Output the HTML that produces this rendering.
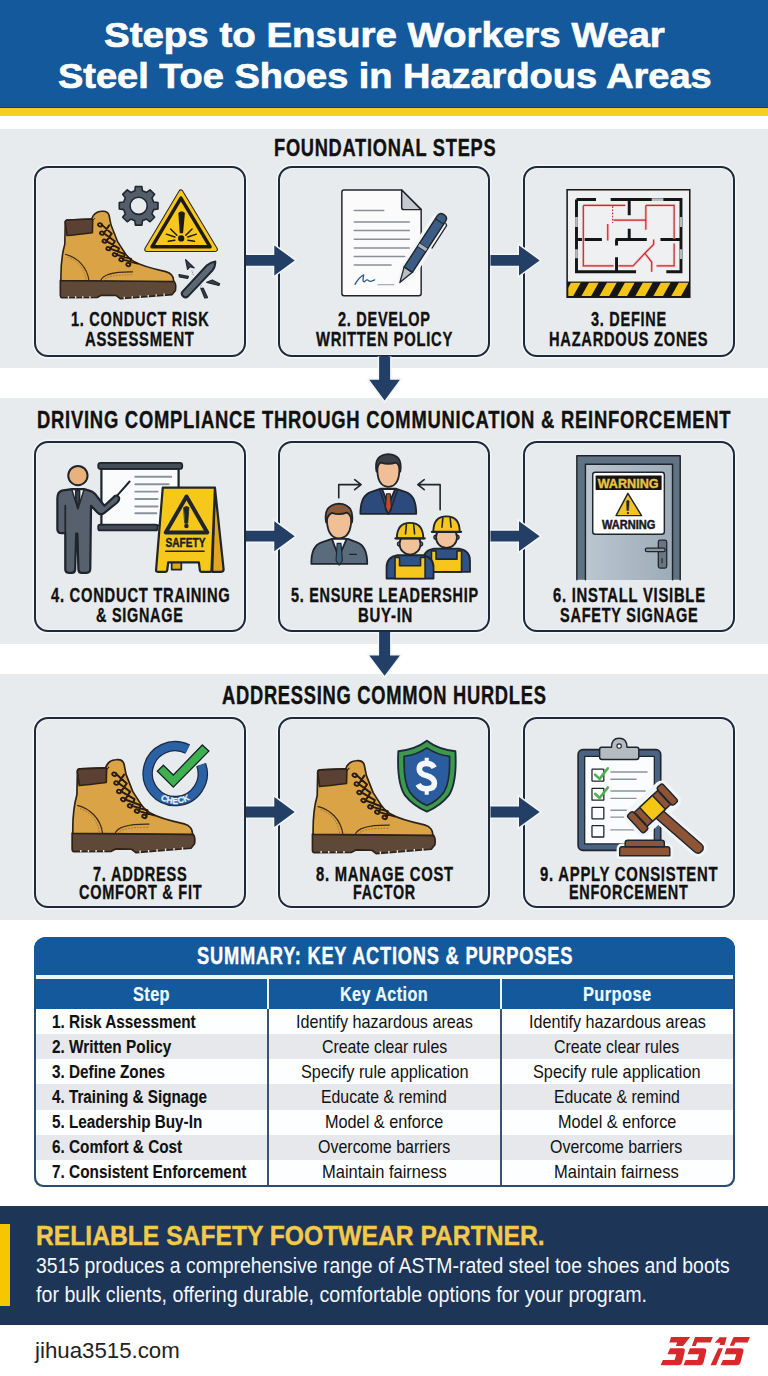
<!DOCTYPE html>
<html><head><meta charset="utf-8"><style>
html,body{margin:0;padding:0;}
body{width:768px;height:1376px;position:relative;overflow:hidden;background:#fff;font-family:"Liberation Sans",sans-serif;}
.t{position:absolute;white-space:nowrap;transform-origin:0 0;}
.a{position:absolute;}
</style></head><body>
<div class="a" style="left:0;top:0;width:768px;height:107px;background:#13599b"></div>
<div class="a" style="left:0;top:106.5px;width:768px;height:1.5px;background:#1c4250"></div>
<div class="a" style="left:0;top:108px;width:768px;height:7.5px;background:#f4cf1f"></div>
<div class="a" style="left:0;top:129px;width:768px;height:239px;background:#e8ebed"></div>
<div class="a" style="left:0;top:398px;width:768px;height:246px;background:#e8ebed"></div>
<div class="a" style="left:0;top:674px;width:768px;height:246px;background:#e8ebed"></div>
<!-- cards -->
<div class="a" style="left:34px;top:165.6px;width:208px;height:187px;border:2px solid #1e2a3c;border-radius:14px;box-shadow:0 0 0 1.5px #f4f7fa, inset 0 0 0 1px #eef1f5"></div>
<div class="a" style="left:278px;top:165.6px;width:208px;height:187px;border:2px solid #1e2a3c;border-radius:14px;box-shadow:0 0 0 1.5px #f4f7fa, inset 0 0 0 1px #eef1f5"></div>
<div class="a" style="left:522.5px;top:165.6px;width:208px;height:187px;border:2px solid #1e2a3c;border-radius:14px;box-shadow:0 0 0 1.5px #f4f7fa, inset 0 0 0 1px #eef1f5"></div>
<div class="a" style="left:34px;top:441px;width:208px;height:187px;border:2px solid #1e2a3c;border-radius:14px;box-shadow:0 0 0 1.5px #f4f7fa, inset 0 0 0 1px #eef1f5"></div>
<div class="a" style="left:278px;top:441px;width:208px;height:187px;border:2px solid #1e2a3c;border-radius:14px;box-shadow:0 0 0 1.5px #f4f7fa, inset 0 0 0 1px #eef1f5"></div>
<div class="a" style="left:522.5px;top:441px;width:208px;height:187px;border:2px solid #1e2a3c;border-radius:14px;box-shadow:0 0 0 1.5px #f4f7fa, inset 0 0 0 1px #eef1f5"></div>
<div class="a" style="left:34px;top:716.6px;width:208px;height:187px;border:2px solid #1e2a3c;border-radius:14px;box-shadow:0 0 0 1.5px #f4f7fa, inset 0 0 0 1px #eef1f5"></div>
<div class="a" style="left:278px;top:716.6px;width:208px;height:187px;border:2px solid #1e2a3c;border-radius:14px;box-shadow:0 0 0 1.5px #f4f7fa, inset 0 0 0 1px #eef1f5"></div>
<div class="a" style="left:522.5px;top:716.6px;width:208px;height:187px;border:2px solid #1e2a3c;border-radius:14px;box-shadow:0 0 0 1.5px #f4f7fa, inset 0 0 0 1px #eef1f5"></div>
<!-- table -->
<div class="a" style="left:34px;top:937px;width:701px;height:250px;border-radius:12px 12px 9px 9px;background:#2b4d72;overflow:hidden">
  <div class="a" style="left:0;top:0;width:701px;height:42px;background:#13599b"></div>
  <div class="a" style="left:2px;top:38px;width:697px;height:4px;background:#e9f7fc"></div>
  <div class="a" style="left:2px;top:42px;width:697px;height:30px;background:#13599b"></div>
  <div class="a" style="left:2px;top:72px;width:697px;height:176px;background:#fdfeff;border-radius:0 0 8px 8px;overflow:hidden">
  <div class="a" style="left:0;top:25.15px;width:697px;height:25.15px;background:#e6e8eb"></div>
  <div class="a" style="left:0;top:75.45px;width:697px;height:25.15px;background:#e6e8eb"></div>
  <div class="a" style="left:0;top:125.75px;width:697px;height:25.15px;background:#e6e8eb"></div>
  </div>
  <div class="a" style="left:233px;top:42px;width:2px;height:30px;background:#e9f7fc"></div>
  <div class="a" style="left:466px;top:42px;width:2px;height:30px;background:#e9f7fc"></div>
  <div class="a" style="left:233px;top:72px;width:1.6px;height:176px;background:#3b536c"></div>
  <div class="a" style="left:466px;top:72px;width:1.6px;height:176px;background:#3b536c"></div>
</div>
<!-- banner -->
<div class="a" style="left:0;top:1206px;width:768px;height:119px;background:#1d3557"></div>
<div class="a" style="left:0;top:1224px;width:10px;height:82px;background:#f6c600"></div>

<div class="a door-grad" style="left:585.4px;top:464.2px;width:87.1px;height:115.6px;background:linear-gradient(90deg,#bac6d0,#9eacb8)"></div>

<svg class="a" style="left:0;top:0" width="768" height="1376" viewBox="0 0 768 1376">
<path d="M246,254.99999999999997H274.3V245.39999999999998L294.7,260.4L274.3,275.4V265.79999999999995H246 M490.5,254.99999999999997H519V245.39999999999998L539.7,260.4L519,275.4V265.79999999999995H490.5 M246,530.8000000000001H274.3V521.2L294.7,536.2L274.3,551.2V541.6H246 M490.5,530.8000000000001H519V521.2L539.7,536.2L519,551.2V541.6H490.5 M246,806.6H274.3V797.0L294.7,812.0L274.3,827.0V817.4H246 M490.5,806.6H519V797.0L539.7,812.0L519,827.0V817.4H490.5 M379.1,356.5V379.8H369.3L384.6,400.5L399.90000000000003,379.8H390.1V356.5 M379.1,632V655.6H369.3L384.6,675.8L399.90000000000003,655.6H390.1V632" fill="none" stroke="#f3f6f9" stroke-width="3" stroke-linejoin="miter"/>
<path d="M246,254.99999999999997H274.3V245.39999999999998L294.7,260.4L274.3,275.4V265.79999999999995H246 M490.5,254.99999999999997H519V245.39999999999998L539.7,260.4L519,275.4V265.79999999999995H490.5 M246,530.8000000000001H274.3V521.2L294.7,536.2L274.3,551.2V541.6H246 M490.5,530.8000000000001H519V521.2L539.7,536.2L519,551.2V541.6H490.5 M246,806.6H274.3V797.0L294.7,812.0L274.3,827.0V817.4H246 M490.5,806.6H519V797.0L539.7,812.0L519,827.0V817.4H490.5 M379.1,356.5V379.8H369.3L384.6,400.5L399.90000000000003,379.8H390.1V356.5 M379.1,632V655.6H369.3L384.6,675.8L399.90000000000003,655.6H390.1V632" fill="#233f66"/>
</svg>
<svg class="a" style="left:0;top:0" width="768" height="1376" viewBox="0 0 768 1376">
<g transform="translate(53.3,205.9) scale(0.1595)" stroke="#2e2118" stroke-width="10" stroke-linejoin="round">
  <path d="M44,466 L758,474 Q772,490 766,530 L745,556 L420,582 L395,562 L300,560 L275,574 L55,576 Q44,574 44,560 Z" fill="#5e4939"/>
  <path d="M95,566 V580 M140,566 V580 M185,566 V580 M230,566 V580 M445,570 V586 M495,566 V582 M545,562 V578 M595,558 V574 M645,554 V570 M695,550 V566 " stroke="#e7eaee" stroke-width="8" stroke-linecap="butt"/>
  <path d="M75,104 Q74,90 90,88 L240,82 C248,58 262,38 300,34 C330,30 345,38 350,60 L362,120 L402,222 L452,300 C470,325 488,340 505,348 C560,380 640,398 705,412 C740,422 756,448 754,474 L48,468 C46,380 55,300 72,240 Z" fill="#daa446"/>
  <path d="M75,104 Q74,90 90,88 L238,82 Q248,82 247,92 L245,168 C180,176 130,182 86,186 Z" fill="#5b4133"/>
  <path d="M247,92 L262,76" fill="none" stroke-width="6"/>
  <path d="M74,303 C150,322 212,380 224,470 M296,470 C312,425 385,412 500,414" fill="none" stroke-width="7" stroke="#3a2a1e"/>
  <path d="M90,322 C150,342 196,390 205,468 M312,470 C330,440 390,432 495,432" fill="none" stroke-width="4" stroke="#8a5e2a" stroke-dasharray="10 8"/>
  <path d="M305,119 L366,174 M350,122 L317,171 M317,171 L386,222 M366,174 L333,221 M333,221 L412,266 M386,222 L357,268 M357,268 L448,302 M412,266 L397,306 M397,306 L488,332 M448,302 L438,337 M438,337 L528,362 M488,332 L482,368 " stroke-width="12" fill="none" stroke-linecap="round" stroke="#2a1c12"/>
  <g fill="none" stroke-width="11" stroke="#2a1c12"><ellipse cx="293" cy="119" rx="13" ry="10" transform="rotate(20,293,119)"/><ellipse cx="305" cy="171" rx="13" ry="10" transform="rotate(20,305,171)"/><ellipse cx="321" cy="221" rx="13" ry="10" transform="rotate(20,321,221)"/><ellipse cx="345" cy="268" rx="13" ry="10" transform="rotate(20,345,268)"/><ellipse cx="385" cy="306" rx="13" ry="10" transform="rotate(20,385,306)"/><ellipse cx="426" cy="337" rx="13" ry="10" transform="rotate(20,426,337)"/><ellipse cx="470" cy="368" rx="13" ry="10" transform="rotate(20,470,368)"/></g></g>
<g transform="translate(115,180) scale(0.14327)" stroke-linejoin="round">
  <path d="M269.64,153.28 L300.14,157.50 L300.14,202.50 L269.64,206.72 L257.89,235.10 L276.47,259.65 L244.65,291.47 L220.10,272.89 L191.72,284.64 L187.50,315.14 L142.50,315.14 L138.28,284.64 L109.90,272.89 L85.35,291.47 L53.53,259.65 L72.11,235.10 L60.36,206.72 L29.86,202.50 L29.86,157.50 L60.36,153.28 L72.11,124.90 L53.53,100.35 L85.35,68.53 L109.90,87.11 L138.28,75.36 L142.50,44.86 L187.50,44.86 L191.72,75.36 L220.10,87.11 L244.65,68.53 L276.47,100.35 L257.89,124.90Z M225,180 A60,60 0 1 0 105,180 A60,60 0 1 0 225,180Z" fill="#535e6a" fill-rule="evenodd" stroke="#20262d" stroke-width="11"/>
  <path d="M460,84 L700,484 L222,484 Z" fill="#f6c71d" stroke="#2a2418" stroke-width="36" stroke-linejoin="round"/><path d="M460,84 L700,484 L222,484 Z" fill="#f6c71d" stroke="#f6c71d" stroke-width="22" stroke-linejoin="round"/>
  <path d="M460,126 L664,466 L258,466 Z" fill="none" stroke="#1d1a14" stroke-width="24" stroke-linejoin="round"/>
  <path d="M442,230 Q465,205 488,230 L475,372 L452,372 Z" fill="#1d1a14"/>
  <circle cx="462" cy="408" r="22" fill="#1d1a14"/>
  <path d="M358,378 L418,398 M388,342 L432,385 M372,428 L418,420 M568,378 L508,398 M538,342 L494,385 M555,428 L508,420" stroke="#1d1a14" stroke-width="10" stroke-linecap="round"/>
</g>
<g transform="translate(170,255) scale(0.078125)" stroke="#22282f" stroke-linejoin="round">
  <path d="M160,470 L470,135 Q520,90 580,82 Q580,150 545,195 L230,530 Q190,560 160,520 Q140,495 160,470Z" fill="#5e6a76" stroke-width="26"/>
  <path d="M240,460 L470,200" stroke="#3d4650" stroke-width="10" stroke-dasharray="14 22"/>
  <path d="M200,60 L310,165 L255,150 L225,185Z M115,250 L235,275 L225,300 L120,280Z M470,350 L540,320 L635,370 L625,390Z M395,430 L425,425 L480,545 L445,550Z" fill="#3a4048" stroke-width="16"/>
  <path d="M280,200 L300,260 M400,390 L390,420" stroke="#3d4650" stroke-width="10" stroke-dasharray="10 14"/>
</g>

<g transform="translate(320,175) scale(0.18229)" stroke-linejoin="round" stroke-linecap="round">
  <path d="M132,82 L448,82 L555,190 L555,650 Q555,662 543,662 L132,662 Q120,662 120,650 L120,94 Q120,82 132,82Z" fill="#fbfbfc" stroke="#1f252c" stroke-width="8"/>
  <path d="M448,82 L448,178 Q448,190 460,190 L555,190Z" fill="#c6c9cd" stroke="#1f252c" stroke-width="8"/>
  <path d="M188,195 H350 M188,258 H490 M188,305 H490 M188,352 H490 M188,400 H490 M188,447 H465 M188,494 H390" stroke="#8b9096" stroke-width="8"/>
  <path d="M318,602 H405" stroke="#8b9096" stroke-width="5"/>
  <path d="M192,600 Q215,560 240,548 Q230,590 245,585 Q258,570 265,578 Q270,590 300,575" fill="none" stroke="#2b5a86" stroke-width="7"/>
  <g transform="rotate(33,555,410)">
    <path d="M528,225 L582,225 L582,540 L555,600 L528,540Z" fill="#f3f5f7" stroke="#f3f5f7" stroke-width="44"/>
    <path d="M528,540 L555,625 L582,540Z" fill="#b9bec4" stroke="#1f252c" stroke-width="7"/>
    <path d="M528,205 Q528,180 555,180 Q582,180 582,205 L582,540 L528,540Z" fill="#3d5c84" stroke="#1f252c" stroke-width="8"/>
    <path d="M528,225 H582 M528,385 H582 M528,405 H582" stroke="#1f252c" stroke-width="6"/>
    <rect x="530" y="386" width="50" height="18" fill="#aab4c0"/>
    <path d="M590,215 L600,222 L600,370" fill="none" stroke="#1f252c" stroke-width="7"/>
  </g>
</g>

<g transform="translate(555,180) scale(0.1953125)" stroke-linecap="butt">
  <rect x="62" y="50" width="628" height="550" fill="#eef0f2" stroke="#1a1a1a" stroke-width="8"/>
  <path d="M110,100 H210 M285,100 H645 V470 H570 M415,470 H110 V100 M380,100 V180 M380,250 V300 M110,305 H240 M310,305 H470 M315,305 V335 M540,305 H645 M315,395 V470" fill="none" stroke="#151515" stroke-width="15"/>
  <path d="M495,100 H555 M110,190 V240 M110,355 V400 M645,190 V240 M645,355 V405" stroke="#b5babf" stroke-width="14"/>
  <g fill="none" stroke="#f5c4c6" stroke-width="14">
  <path d="M145,130 H360 M145,130 V440 H300 M300,205 H465 M465,130 V255 M465,130 H610 V300 M610,325 V440 H520 M270,225 V310 M325,440 H400 L460,375 L505,330 V305 M460,375 L495,420 V470"/>
  </g>
  <g fill="none" stroke="#c52b33" stroke-width="6">
  <path d="M145,130 H360 M145,130 V440 H300 M300,205 H465 M465,130 V255 M465,130 H610 V300 M610,325 V440 H520 M270,225 V310 M325,440 H400 L460,375 L505,330 V305 M460,375 L495,420 V470"/>
  <path d="M295,135 V220" stroke-dasharray="8 8"/>
  </g>
  <rect x="62" y="520" width="628" height="80" fill="#151515"/>
    <svg x="68" y="526" width="616" height="68" viewBox="68 526 616 68" overflow="hidden"><g fill="#f2c416"><path d="M40,600 L85,520 L135,520 L90,600Z"/><path d="M132,600 L177,520 L227,520 L182,600Z"/><path d="M224,600 L269,520 L319,520 L274,600Z"/><path d="M316,600 L361,520 L411,520 L366,600Z"/><path d="M408,600 L453,520 L503,520 L458,600Z"/><path d="M500,600 L545,520 L595,520 L550,600Z"/><path d="M592,600 L637,520 L687,520 L642,600Z"/><path d="M684,600 L729,520 L779,520 L734,600Z"/></g></svg>
</g>

<g transform="translate(45,455) scale(0.2474)" stroke="#1f252c" stroke-linejoin="round" stroke-linecap="round">
  <path d="M228,55 H540 V285 H228Z" fill="#fafbfc" stroke-width="9"/>
  <rect x="215" y="32" width="340" height="24" rx="10" fill="#434c57" stroke-width="7"/>
  <rect x="215" y="281" width="240" height="24" rx="8" fill="#434c57" stroke-width="7"/>
  <path d="M365,88 H510 M365,118 H500 M365,148 H455 M365,178 H455 M365,208 H455 M365,235 H450" stroke="#8d9299" stroke-width="8"/>
  <path d="M288,168 L342,107" stroke-width="8"/>
  <path d="M68,144 L108,138 H158 L179,144 Q200,150 210,168 L240,205 L282,166 Q296,160 300,175 Q300,185 292,192 L240,234 Q225,246 212,232 L186,205 L183,460 Q183,476 168,476 L148,476 Q136,476 135,462 L131,318 L126,318 L122,462 Q121,476 108,476 L96,476 Q82,476 82,462 L82,316 L68,316 Q50,316 50,300 L50,176 Q50,150 68,144Z" fill="#56616d" stroke-width="9"/>
  <path d="M82,205 V316" fill="none" stroke-width="7"/>
  <path d="M108,139 L133,218 L158,139Z" fill="#f3f5f7" stroke-width="6"/>
  <path d="M124,144 H140 L140,180 L132,210 L124,180Z" fill="#39424c" stroke-width="6"/>
  <circle cx="133" cy="83" r="39" fill="#e9b27c" stroke-width="8"/>
  <path d="M687,134 L722,462 Q722,472 712,472 L676,472 Z" fill="#e2a51f" stroke-width="9"/>
  <path d="M512,433 H551 V463 H512Z" fill="#e2a51f" stroke-width="7"/>
  <path d="M476,132 H687 L673,466 Q673,472 666,472 L632,472 Q627,472 626,466 L622,434 L498,434 L494,466 Q493,472 487,472 L455,472 Q448,472 449,465 Z" fill="#f6c81c" stroke-width="9"/>
  <path d="M572,168 L656,313 L488,313Z" fill="none" stroke-width="16"/>
  <path d="M561,212 Q571,204 582,212 L577,276 L566,276Z" fill="#1f252c" stroke-width="3"/>
  <circle cx="571.5" cy="287" r="9" fill="#1f252c" stroke="none"/>
  <path d="M488,389 H643" stroke-width="6"/>
</g>
<text x="0" y="0" transform="translate(185.4,546.7) scale(0.84,1)" font-family="Liberation Sans" font-weight="700" font-size="12.1" fill="#1a1d22" stroke="#1a1d22" stroke-width="0.4" text-anchor="middle">SAFETY</text>

<g transform="translate(300,450) scale(0.22786)" stroke="#1f252c" stroke-width="8" stroke-linejoin="round" stroke-linecap="round">
  <path d="M170,210 V152 H262 M240,130 L268,152 L240,174 M615,262 V152 H522 M545,130 L517,152 L545,174" fill="none" stroke-width="7"/>
  <path d="M265,280 Q265,200 310,185 L355,170 L420,170 L465,185 Q510,200 510,280Z" fill="#2c4a7c"/>
  <path d="M360,172 L388,240 L418,172Z" fill="#f4f5f6"/>
  <path d="M380,192 L396,192 L402,260 L388,282 L374,260Z" fill="#c6452c" stroke-width="5"/>
  <path d="M350,175 L375,250 L388,282 M428,175 L402,250 L388,282" fill="none" stroke-width="6"/>
  <path d="M340,70 Q335,160 388,162 Q440,160 436,70 Q436,35 388,35 Q340,35 340,70Z" fill="#f1bf95"/>
  <path d="M336,95 Q322,20 388,18 Q452,20 440,95 Q436,62 420,55 Q388,66 356,55 Q340,62 336,95Z" fill="#3d4045"/>
  <path d="M50,500 Q48,420 95,405 L140,390 L210,390 L250,405 Q295,420 295,500Z" fill="#5a6b7d"/>
  <path d="M140,390 L170,470 L205,390Z" fill="#f4f5f6"/>
  <path d="M163,410 L180,410 L186,485 L172,505 L158,485Z" fill="#41637a" stroke-width="5"/>
  <path d="M218,458 H248" stroke-width="6"/>
  <path d="M118,290 Q115,385 172,388 Q228,385 225,290 Q225,255 172,255 Q118,255 118,290Z" fill="#f1bf95"/>
  <path d="M115,318 Q100,240 172,235 Q240,240 228,318 Q224,282 205,275 Q172,288 140,276 Q120,285 115,318Z" fill="#8a5a3a"/>
  
  <path d="M540,535 V486 Q540,441 588,433 H698 Q746,441 746,486 V535Z" fill="#2f5286"/>
  <path d="M577,535 V443 H597 V479 H689 V443 H709 V535Z" fill="#f5c61c" stroke-width="7"/>
  <circle cx="597" cy="383" r="9" fill="#f1bf95" stroke-width="6"/>
  <circle cx="689" cy="383" r="9" fill="#f1bf95" stroke-width="6"/>
  <ellipse cx="643" cy="383" rx="46" ry="47" fill="#f2c29b"/>
  <path d="M585,359 Q585,291 643,291 Q701,291 701,359Z" fill="#f5c61c"/>
  <path d="M579,359 H707" stroke-width="10"/>
  <path d="M627,299 L623,339 M659,299 L663,339" stroke-width="7" fill="none"/>

  
  <path d="M380,564 V515 Q380,470 428,462 H538 Q586,470 586,515 V564Z" fill="#2f5286"/>
  <path d="M417,564 V472 H437 V508 H529 V472 H549 V564Z" fill="#f5c61c" stroke-width="7"/>
  <circle cx="437" cy="412" r="9" fill="#f1bf95" stroke-width="6"/>
  <circle cx="529" cy="412" r="9" fill="#f1bf95" stroke-width="6"/>
  <ellipse cx="483" cy="412" rx="46" ry="47" fill="#f2c29b"/>
  <path d="M425,388 Q425,320 483,320 Q541,320 541,388Z" fill="#f5c61c"/>
  <path d="M419,388 H547" stroke-width="10"/>
  <path d="M467,328 L463,368 M499,328 L503,368" stroke-width="7" fill="none"/>

</g>

<g transform="translate(565,450) scale(0.18229)" stroke="#1f252c" stroke-linejoin="round" stroke-linecap="round">
  <path d="M65,712 V32 H632 V712 Z M112,712 V78 H590 V712 Z" fill="#5f7382" fill-rule="evenodd" stroke="none"/><path d="M65,712 V32 H632 V712" fill="none" stroke-width="8"/>
  <path d="M112,712 V78 H590 V712" fill="none" stroke-width="8"/>
  <rect x="152" y="122" width="393" height="340" rx="14" fill="#ffffff" stroke-width="8"/>
  <rect x="168" y="140" width="362" height="80" rx="4" fill="#141414" stroke="none"/>
  <path d="M345,238 L420,360 L280,360Z" fill="#f2c526" stroke-width="8"/>
  <path d="M338,280 Q345,272 352,280 L349,332 L341,332Z" fill="#1f252c" stroke-width="3"/>
  <circle cx="345" cy="346" r="6" fill="#1f252c" stroke="none"/>
  <rect x="512" y="495" width="46" height="153" rx="10" fill="#6b7581" stroke-width="7"/>
  <path d="M450,548 H540" stroke-width="26"/>
  <path d="M450,548 H540" stroke="#8c96a1" stroke-width="12"/>
  <path d="M532,595 V618" stroke-width="6"/>
</g>
<text transform="translate(628.1,488.3) scale(1.0,1)" font-family="Liberation Sans" font-weight="700" font-size="12.6" fill="#e9c341" stroke="#e9c341" stroke-width="0.4" text-anchor="middle">WARNING</text>
<text transform="translate(628.7,529.2) scale(0.88,1)" font-family="Liberation Sans" font-weight="700" font-size="12.6" fill="#1b1b1b" stroke="#1b1b1b" stroke-width="0.5" text-anchor="middle">WARNING</text>
<g transform="translate(64.7,754) scale(0.16949)" stroke="#2e2118" stroke-width="10" stroke-linejoin="round">
  <path d="M44,466 L758,474 Q772,490 766,530 L745,556 L420,582 L395,562 L300,560 L275,574 L55,576 Q44,574 44,560 Z" fill="#5e4939"/>
  <path d="M95,566 V580 M140,566 V580 M185,566 V580 M230,566 V580 M445,570 V586 M495,566 V582 M545,562 V578 M595,558 V574 M645,554 V570 M695,550 V566 " stroke="#e7eaee" stroke-width="8" stroke-linecap="butt"/>
  <path d="M75,104 Q74,90 90,88 L240,82 C248,58 262,38 300,34 C330,30 345,38 350,60 L362,120 L402,222 L452,300 C470,325 488,340 505,348 C560,380 640,398 705,412 C740,422 756,448 754,474 L48,468 C46,380 55,300 72,240 Z" fill="#daa446"/>
  <path d="M75,104 Q74,90 90,88 L238,82 Q248,82 247,92 L245,168 C180,176 130,182 86,186 Z" fill="#5b4133"/>
  <path d="M247,92 L262,76" fill="none" stroke-width="6"/>
  <path d="M74,303 C150,322 212,380 224,470 M296,470 C312,425 385,412 500,414" fill="none" stroke-width="7" stroke="#3a2a1e"/>
  <path d="M90,322 C150,342 196,390 205,468 M312,470 C330,440 390,432 495,432" fill="none" stroke-width="4" stroke="#8a5e2a" stroke-dasharray="10 8"/>
  <path d="M305,119 L366,174 M350,122 L317,171 M317,171 L386,222 M366,174 L333,221 M333,221 L412,266 M386,222 L357,268 M357,268 L448,302 M412,266 L397,306 M397,306 L488,332 M448,302 L438,337 M438,337 L528,362 M488,332 L482,368 " stroke-width="12" fill="none" stroke-linecap="round" stroke="#2a1c12"/>
  <g fill="none" stroke-width="11" stroke="#2a1c12"><ellipse cx="293" cy="119" rx="13" ry="10" transform="rotate(20,293,119)"/><ellipse cx="305" cy="171" rx="13" ry="10" transform="rotate(20,305,171)"/><ellipse cx="321" cy="221" rx="13" ry="10" transform="rotate(20,321,221)"/><ellipse cx="345" cy="268" rx="13" ry="10" transform="rotate(20,345,268)"/><ellipse cx="385" cy="306" rx="13" ry="10" transform="rotate(20,385,306)"/><ellipse cx="426" cy="337" rx="13" ry="10" transform="rotate(20,426,337)"/><ellipse cx="470" cy="368" rx="13" ry="10" transform="rotate(20,470,368)"/></g></g>
<path d="M201.20,764.65 A27.5,27.5 0 1 1 187.68,749.10" fill="none" stroke="#1a2b43" stroke-width="10.5"/>
<path d="M201.20,764.65 A27.5,27.5 0 1 1 187.68,749.10" fill="none" stroke="#2b62a6" stroke-width="8"/>
<path d="M157.3,771.3 L163.4,765.2 L173.3,775.0 L202.3,745.0 L208.9,751.1 L173.3,787.2Z" fill="#3fb04f" stroke="#f0f3f6" stroke-width="3" stroke-linejoin="miter"/>
<path d="M157.3,771.3 L163.4,765.2 L173.3,775.0 L202.3,745.0 L208.9,751.1 L173.3,787.2Z" fill="#3fb04f" stroke="#16202a" stroke-width="1.3" stroke-linejoin="miter"/>
<g font-family="Liberation Sans" font-weight="700" font-size="8.6" fill="#e6f2fb" stroke="#e6f2fb" stroke-width="0.25"><text transform="translate(162.98,801.00) rotate(24.03)" text-anchor="middle">C</text><text transform="translate(169.07,802.97) rotate(11.79)" text-anchor="middle">H</text><text transform="translate(175.20,803.60) rotate(0.00)" text-anchor="middle">E</text><text transform="translate(181.33,802.97) rotate(-11.79)" text-anchor="middle">C</text><text transform="translate(187.42,801.00) rotate(-24.03)" text-anchor="middle">K</text></g>
<g transform="translate(305,755) scale(0.16949)" stroke="#2e2118" stroke-width="10" stroke-linejoin="round">
  <path d="M44,466 L758,474 Q772,490 766,530 L745,556 L420,582 L395,562 L300,560 L275,574 L55,576 Q44,574 44,560 Z" fill="#5e4939"/>
  <path d="M95,566 V580 M140,566 V580 M185,566 V580 M230,566 V580 M445,570 V586 M495,566 V582 M545,562 V578 M595,558 V574 M645,554 V570 M695,550 V566 " stroke="#e7eaee" stroke-width="8" stroke-linecap="butt"/>
  <path d="M75,104 Q74,90 90,88 L240,82 C248,58 262,38 300,34 C330,30 345,38 350,60 L362,120 L402,222 L452,300 C470,325 488,340 505,348 C560,380 640,398 705,412 C740,422 756,448 754,474 L48,468 C46,380 55,300 72,240 Z" fill="#daa446"/>
  <path d="M75,104 Q74,90 90,88 L238,82 Q248,82 247,92 L245,168 C180,176 130,182 86,186 Z" fill="#5b4133"/>
  <path d="M247,92 L262,76" fill="none" stroke-width="6"/>
  <path d="M74,303 C150,322 212,380 224,470 M296,470 C312,425 385,412 500,414" fill="none" stroke-width="7" stroke="#3a2a1e"/>
  <path d="M90,322 C150,342 196,390 205,468 M312,470 C330,440 390,432 495,432" fill="none" stroke-width="4" stroke="#8a5e2a" stroke-dasharray="10 8"/>
  <path d="M305,119 L366,174 M350,122 L317,171 M317,171 L386,222 M366,174 L333,221 M333,221 L412,266 M386,222 L357,268 M357,268 L448,302 M412,266 L397,306 M397,306 L488,332 M448,302 L438,337 M438,337 L528,362 M488,332 L482,368 " stroke-width="12" fill="none" stroke-linecap="round" stroke="#2a1c12"/>
  <g fill="none" stroke-width="11" stroke="#2a1c12"><ellipse cx="293" cy="119" rx="13" ry="10" transform="rotate(20,293,119)"/><ellipse cx="305" cy="171" rx="13" ry="10" transform="rotate(20,305,171)"/><ellipse cx="321" cy="221" rx="13" ry="10" transform="rotate(20,321,221)"/><ellipse cx="345" cy="268" rx="13" ry="10" transform="rotate(20,345,268)"/><ellipse cx="385" cy="306" rx="13" ry="10" transform="rotate(20,385,306)"/><ellipse cx="426" cy="337" rx="13" ry="10" transform="rotate(20,426,337)"/><ellipse cx="470" cy="368" rx="13" ry="10" transform="rotate(20,470,368)"/></g></g>
<g transform="translate(305,735) scale(0.20833)" stroke="#1d2a3a" stroke-linejoin="round">
  <path d="M585,28 Q640,70 722,78 Q730,230 690,290 Q650,340 585,368 Q520,340 480,290 Q440,230 448,78 Q530,70 585,28Z" fill="#3d9a4c" stroke-width="9"/>
  <path d="M585,62 Q632,95 694,102 Q698,225 668,272 Q635,318 585,338 Q535,318 502,272 Q472,225 476,102 Q538,95 585,62Z" fill="#2a5c9e" stroke-width="8"/>
</g>
<g transform="translate(390,735) scale(0.09766)" fill="none" stroke="#f4f8fc" stroke-linecap="butt">
  <path d="M452,335 Q430,290 372,290 Q300,290 300,350 Q300,395 372,415 Q455,440 455,495 Q455,552 372,552 Q310,552 288,505" stroke-width="58"/>
  <path d="M376,232 V275 M376,566 V612" stroke-width="42"/>
</g>

<g transform="translate(565,730) scale(0.18229)" stroke="#1f252c" stroke-linejoin="round" stroke-linecap="round">
  <rect x="72" y="108" width="453" height="552" rx="26" fill="#4a6382" stroke-width="9"/>
  <rect x="108" y="145" width="382" height="480" fill="#fbfcfd" stroke-width="7"/>
  <path d="M200,95 H255 Q255,45 297,45 Q340,45 340,95 H395 Q405,95 405,108 V150 Q405,162 392,162 H203 Q190,162 190,150 V108 Q190,95 200,95Z" fill="#b4bbc3" stroke-width="8"/>
  <circle cx="297" cy="88" r="12" fill="#fbfcfd" stroke-width="6"/>
  <g fill="none" stroke-width="7">
    <rect x="148" y="215" width="65" height="65" rx="3"/><rect x="148" y="320" width="65" height="65" rx="3"/>
    <rect x="148" y="425" width="65" height="62" rx="3"/><rect x="148" y="525" width="65" height="62" rx="3"/>
  </g>
  <path d="M165,245 L190,268 L235,210 M165,350 L190,373 L235,315" fill="none" stroke="#4caf50" stroke-width="14"/>
  <path d="M252,230 H450 M252,270 H390 M252,335 H440 M252,375 H390 M252,440 H340 M252,478 H330 M252,548 H380" stroke="#8d9299" stroke-width="8"/>
  <g transform="translate(480,430) rotate(-49)">
    <path d="M-28,40 H28 V330 Q28,358 0,358 Q-28,358 -28,330Z" fill="#f2f5f7" stroke="#f2f5f7" stroke-width="40"/>
  </g>
  <g transform="translate(480,430) rotate(-43)">
    <rect x="-135" y="-68" width="270" height="136" rx="20" fill="#f2f5f7" stroke="#f2f5f7" stroke-width="40"/>
  </g>
  <g transform="translate(480,430) rotate(-49)">
    <path d="M-28,40 H28 V330 Q28,358 0,358 Q-28,358 -28,330Z" fill="#8d5535" stroke-width="8"/>
  </g>
  <g transform="translate(480,430) rotate(-43)">
    <rect x="-95" y="-52" width="190" height="104" fill="#8d5535" stroke-width="8"/>
    <rect x="-48" y="-52" width="96" height="104" fill="#f5c518" stroke-width="8"/>
    <rect x="-132" y="-66" width="42" height="132" rx="14" fill="#8d5535" stroke-width="8"/>
    <rect x="90" y="-66" width="42" height="132" rx="14" fill="#8d5535" stroke-width="8"/>
    <path d="M-86,-40 V40 M86,-40 V40" stroke-width="6"/>
  </g>
  <path d="M300,690 V655 Q300,640 315,640 H560 Q575,640 575,655 V690Z" fill="#f2f5f7" stroke="#f2f5f7" stroke-width="34"/>
  <path d="M300,690 V655 Q300,640 315,640 H560 Q575,640 575,655 V690Z" fill="#8d5535" stroke-width="8"/>
  <path d="M330,640 V618 Q330,605 345,605 H530 Q545,605 545,618 V640Z" fill="#8d5535" stroke-width="8"/>
</g>

<g fill="#d9282b">
 <g transform="translate(658,1332) scale(0.0651)">
  <path d="M200,75 L495,75 L385,215 L275,215 L295,162 L175,162 Z M185,250 L380,250 Q420,250 410,300 L370,470 Q360,510 320,510 L40,510 L75,430 L255,430 L280,340 L145,340 Z"/>
  <path d="M570,75 L842,75 L808,162 L600,162 L580,215 L520,215 Z M490,250 L700,250 Q750,250 740,300 L700,470 Q690,510 650,510 L390,510 L425,430 L605,430 L630,340 L455,340 Z"/>
 </g>
 <g transform="translate(705,1332) scale(0.0651)">
  <path d="M150,165 L225,80 L335,80 L300,200 L225,200 L235,165 Z M205,250 L275,250 L170,510 L85,510 Z"/>
  <path d="M440,75 L690,75 L655,160 L465,160 L445,210 L380,210 Z M330,250 L545,250 Q600,250 590,300 L545,470 Q535,510 495,510 L240,510 L275,430 L455,430 L480,340 L300,340 Z"/>
 </g>
</g>
</svg>
<div class="t" style="left:104.15px;top:16.50px;font-size:35.03px;line-height:35.03px;font-weight:700;color:#fff;transform:scaleX(1.0985);-webkit-text-stroke:0.7px #fff">Steps to Ensure Workers Wear</div>
<div class="t" style="left:58.05px;top:58.10px;font-size:35.03px;line-height:35.03px;font-weight:700;color:#fff;transform:scaleX(1.0835);-webkit-text-stroke:0.7px #fff">Steel Toe Shoes in Hazardous Areas</div>
<div class="t" style="left:274.10px;top:135.83px;font-size:24.42px;line-height:24.42px;font-weight:700;color:#111;transform:scaleX(0.7467);-webkit-text-stroke:0.4px #111;letter-spacing:1.0px">FOUNDATIONAL STEPS</div>
<div class="t" style="left:37.30px;top:407.53px;font-size:24.42px;line-height:24.42px;font-weight:700;color:#111;transform:scaleX(0.7542);-webkit-text-stroke:0.4px #111;letter-spacing:1.0px">DRIVING COMPLIANCE THROUGH COMMUNICATION &amp; REINFORCEMENT</div>
<div class="t" style="left:222.30px;top:682.84px;font-size:25.00px;line-height:25.00px;font-weight:700;color:#111;transform:scaleX(0.7327);-webkit-text-stroke:0.4px #111;letter-spacing:1.0px">ADDRESSING COMMON HURDLES</div>
<div class="t" style="left:71.42px;top:310.45px;font-size:19.69px;line-height:19.69px;font-weight:700;color:#111;transform:scaleX(0.7374);-webkit-text-stroke:0.35px #111;letter-spacing:1.0px">1. CONDUCT RISK</div>
<div class="t" style="left:85.38px;top:329.65px;font-size:19.69px;line-height:19.69px;font-weight:700;color:#111;transform:scaleX(0.7530);-webkit-text-stroke:0.35px #111;letter-spacing:1.0px">ASSESSMENT</div>
<div class="t" style="left:338.38px;top:310.45px;font-size:19.69px;line-height:19.69px;font-weight:700;color:#111;transform:scaleX(0.7363);-webkit-text-stroke:0.35px #111;letter-spacing:1.0px">2. DEVELOP</div>
<div class="t" style="left:316.18px;top:329.65px;font-size:19.69px;line-height:19.69px;font-weight:700;color:#111;transform:scaleX(0.7518);-webkit-text-stroke:0.35px #111;letter-spacing:1.0px">WRITTEN POLICY</div>
<div class="t" style="left:591.17px;top:310.45px;font-size:19.69px;line-height:19.69px;font-weight:700;color:#111;transform:scaleX(0.7359);-webkit-text-stroke:0.35px #111;letter-spacing:1.0px">3. DEFINE</div>
<div class="t" style="left:549.47px;top:329.65px;font-size:19.69px;line-height:19.69px;font-weight:700;color:#111;transform:scaleX(0.7439);-webkit-text-stroke:0.35px #111;letter-spacing:1.0px">HAZARDOUS ZONES</div>
<div class="t" style="left:50.57px;top:586.45px;font-size:19.69px;line-height:19.69px;font-weight:700;color:#111;transform:scaleX(0.7483);-webkit-text-stroke:0.35px #111;letter-spacing:1.0px">4. CONDUCT TRAINING</div>
<div class="t" style="left:96.17px;top:605.55px;font-size:19.69px;line-height:19.69px;font-weight:700;color:#111;transform:scaleX(0.7327);-webkit-text-stroke:0.35px #111;letter-spacing:1.0px">&amp; SIGNAGE</div>
<div class="t" style="left:290.68px;top:586.45px;font-size:19.69px;line-height:19.69px;font-weight:700;color:#111;transform:scaleX(0.7328);-webkit-text-stroke:0.35px #111;letter-spacing:1.0px">5. ENSURE LEADERSHIP</div>
<div class="t" style="left:357.57px;top:605.55px;font-size:19.69px;line-height:19.69px;font-weight:700;color:#111;transform:scaleX(0.7575);-webkit-text-stroke:0.35px #111;letter-spacing:1.0px">BUY-IN</div>
<div class="t" style="left:552.88px;top:586.45px;font-size:19.69px;line-height:19.69px;font-weight:700;color:#111;transform:scaleX(0.7516);-webkit-text-stroke:0.35px #111;letter-spacing:1.0px">6. INSTALL VISIBLE</div>
<div class="t" style="left:559.97px;top:605.55px;font-size:19.69px;line-height:19.69px;font-weight:700;color:#111;transform:scaleX(0.7376);-webkit-text-stroke:0.35px #111;letter-spacing:1.0px">SAFETY SIGNAGE</div>
<div class="t" style="left:93.27px;top:864.65px;font-size:19.69px;line-height:19.69px;font-weight:700;color:#111;transform:scaleX(0.7406);-webkit-text-stroke:0.35px #111;letter-spacing:1.0px">7. ADDRESS</div>
<div class="t" style="left:78.67px;top:883.25px;font-size:19.69px;line-height:19.69px;font-weight:700;color:#111;transform:scaleX(0.7377);-webkit-text-stroke:0.35px #111;letter-spacing:1.0px">COMFORT &amp; FIT</div>
<div class="t" style="left:315.98px;top:864.65px;font-size:19.69px;line-height:19.69px;font-weight:700;color:#111;transform:scaleX(0.7510);-webkit-text-stroke:0.35px #111;letter-spacing:1.0px">8. MANAGE COST</div>
<div class="t" style="left:353.18px;top:883.25px;font-size:19.69px;line-height:19.69px;font-weight:700;color:#111;transform:scaleX(0.7260);-webkit-text-stroke:0.35px #111;letter-spacing:1.0px">FACTOR</div>
<div class="t" style="left:539.88px;top:864.65px;font-size:19.69px;line-height:19.69px;font-weight:700;color:#111;transform:scaleX(0.7553);-webkit-text-stroke:0.35px #111;letter-spacing:1.0px">9. APPLY CONSISTENT</div>
<div class="t" style="left:569.27px;top:883.25px;font-size:19.69px;line-height:19.69px;font-weight:700;color:#111;transform:scaleX(0.7326);-webkit-text-stroke:0.35px #111;letter-spacing:1.0px">ENFORCEMENT</div>
<div class="t" style="left:196.70px;top:943.88px;font-size:24.13px;line-height:24.13px;font-weight:700;color:#fff;transform:scaleX(0.7581);-webkit-text-stroke:0.4px #fff;letter-spacing:1.0px">SUMMARY: KEY ACTIONS &amp; PURPOSES</div>
<div class="t" style="left:133.10px;top:983.92px;font-size:20.06px;line-height:20.06px;font-weight:700;color:#eef9ff;transform:scaleX(0.8139);-webkit-text-stroke:0.2px #eef9ff;letter-spacing:0.5px">Step</div>
<div class="t" style="left:340.30px;top:983.72px;font-size:20.06px;line-height:20.06px;font-weight:700;color:#eef9ff;transform:scaleX(0.8081);-webkit-text-stroke:0.2px #eef9ff;letter-spacing:0.5px">Key Action</div>
<div class="t" style="left:583.10px;top:983.92px;font-size:20.06px;line-height:20.06px;font-weight:700;color:#eef9ff;transform:scaleX(0.8192);-webkit-text-stroke:0.2px #eef9ff;letter-spacing:0.5px">Purpose</div>
<div class="t" style="left:52.45px;top:1013.59px;font-size:17.44px;line-height:17.44px;font-weight:700;color:#111;transform:scaleX(0.8805);-webkit-text-stroke:0.1px #111">1. Risk Assessment</div>
<div class="t" style="left:295.90px;top:1013.51px;font-size:17.59px;line-height:17.59px;font-weight:400;color:#111;transform:scaleX(0.9185)">Identify hazardous areas</div>
<div class="t" style="left:528.50px;top:1013.51px;font-size:17.59px;line-height:17.59px;font-weight:400;color:#111;transform:scaleX(0.9185)">Identify hazardous areas</div>
<div class="t" style="left:52.45px;top:1038.69px;font-size:17.44px;line-height:17.44px;font-weight:700;color:#111;transform:scaleX(0.8813);-webkit-text-stroke:0.1px #111">2. Written Policy</div>
<div class="t" style="left:321.60px;top:1038.61px;font-size:17.59px;line-height:17.59px;font-weight:400;color:#111;transform:scaleX(0.9020)">Create clear rules</div>
<div class="t" style="left:554.20px;top:1038.61px;font-size:17.59px;line-height:17.59px;font-weight:400;color:#111;transform:scaleX(0.9020)">Create clear rules</div>
<div class="t" style="left:52.45px;top:1063.79px;font-size:17.44px;line-height:17.44px;font-weight:700;color:#111;transform:scaleX(0.8766);-webkit-text-stroke:0.1px #111">3. Define Zones</div>
<div class="t" style="left:300.50px;top:1063.71px;font-size:17.59px;line-height:17.59px;font-weight:400;color:#111;transform:scaleX(0.9266)">Specify rule application</div>
<div class="t" style="left:533.10px;top:1063.71px;font-size:17.59px;line-height:17.59px;font-weight:400;color:#111;transform:scaleX(0.9266)">Specify rule application</div>
<div class="t" style="left:52.45px;top:1088.89px;font-size:17.44px;line-height:17.44px;font-weight:700;color:#111;transform:scaleX(0.8745);-webkit-text-stroke:0.1px #111">4. Training &amp; Signage</div>
<div class="t" style="left:321.00px;top:1088.81px;font-size:17.59px;line-height:17.59px;font-weight:400;color:#111;transform:scaleX(0.8999)">Educate &amp; remind</div>
<div class="t" style="left:553.60px;top:1088.81px;font-size:17.59px;line-height:17.59px;font-weight:400;color:#111;transform:scaleX(0.8999)">Educate &amp; remind</div>
<div class="t" style="left:52.45px;top:1113.99px;font-size:17.44px;line-height:17.44px;font-weight:700;color:#111;transform:scaleX(0.8762);-webkit-text-stroke:0.1px #111">5. Leadership Buy-In</div>
<div class="t" style="left:325.10px;top:1113.91px;font-size:17.59px;line-height:17.59px;font-weight:400;color:#111;transform:scaleX(0.9245)">Model &amp; enforce</div>
<div class="t" style="left:557.70px;top:1113.91px;font-size:17.59px;line-height:17.59px;font-weight:400;color:#111;transform:scaleX(0.9245)">Model &amp; enforce</div>
<div class="t" style="left:52.45px;top:1139.09px;font-size:17.44px;line-height:17.44px;font-weight:700;color:#111;transform:scaleX(0.8782);-webkit-text-stroke:0.1px #111">6. Comfort &amp; Cost</div>
<div class="t" style="left:317.70px;top:1139.01px;font-size:17.59px;line-height:17.59px;font-weight:400;color:#111;transform:scaleX(0.9092)">Overcome barriers</div>
<div class="t" style="left:550.30px;top:1139.01px;font-size:17.59px;line-height:17.59px;font-weight:400;color:#111;transform:scaleX(0.9092)">Overcome barriers</div>
<div class="t" style="left:52.45px;top:1164.19px;font-size:17.44px;line-height:17.44px;font-weight:700;color:#111;transform:scaleX(0.8798);-webkit-text-stroke:0.1px #111">7. Consistent Enforcement</div>
<div class="t" style="left:321.60px;top:1164.11px;font-size:17.59px;line-height:17.59px;font-weight:400;color:#111;transform:scaleX(0.9380)">Maintain fairness</div>
<div class="t" style="left:554.20px;top:1164.11px;font-size:17.59px;line-height:17.59px;font-weight:400;color:#111;transform:scaleX(0.9380)">Maintain fairness</div>
<div class="t" style="left:36.30px;top:1221.99px;font-size:27.18px;line-height:27.18px;font-weight:700;color:#f2c94c;transform:scaleX(0.9074);-webkit-text-stroke:0.4px #f2c94c">RELIABLE SAFETY FOOTWEAR PARTNER.</div>
<div class="t" style="left:35.70px;top:1255.14px;font-size:21.80px;line-height:21.80px;font-weight:400;color:#f4f7fb;transform:scaleX(0.8905)">3515 produces a comprehensive range of ASTM-rated steel toe shoes and boots</div>
<div class="t" style="left:35.70px;top:1283.54px;font-size:21.80px;line-height:21.80px;font-weight:400;color:#f4f7fb;transform:scaleX(0.9011)">for bulk clients, offering durable, comfortable options for your program.</div>
<div class="t" style="left:34.56px;top:1339.93px;font-size:22.53px;line-height:22.53px;font-weight:400;color:#222;transform:scaleX(0.9885)">jihua3515.com</div>

</body></html>
